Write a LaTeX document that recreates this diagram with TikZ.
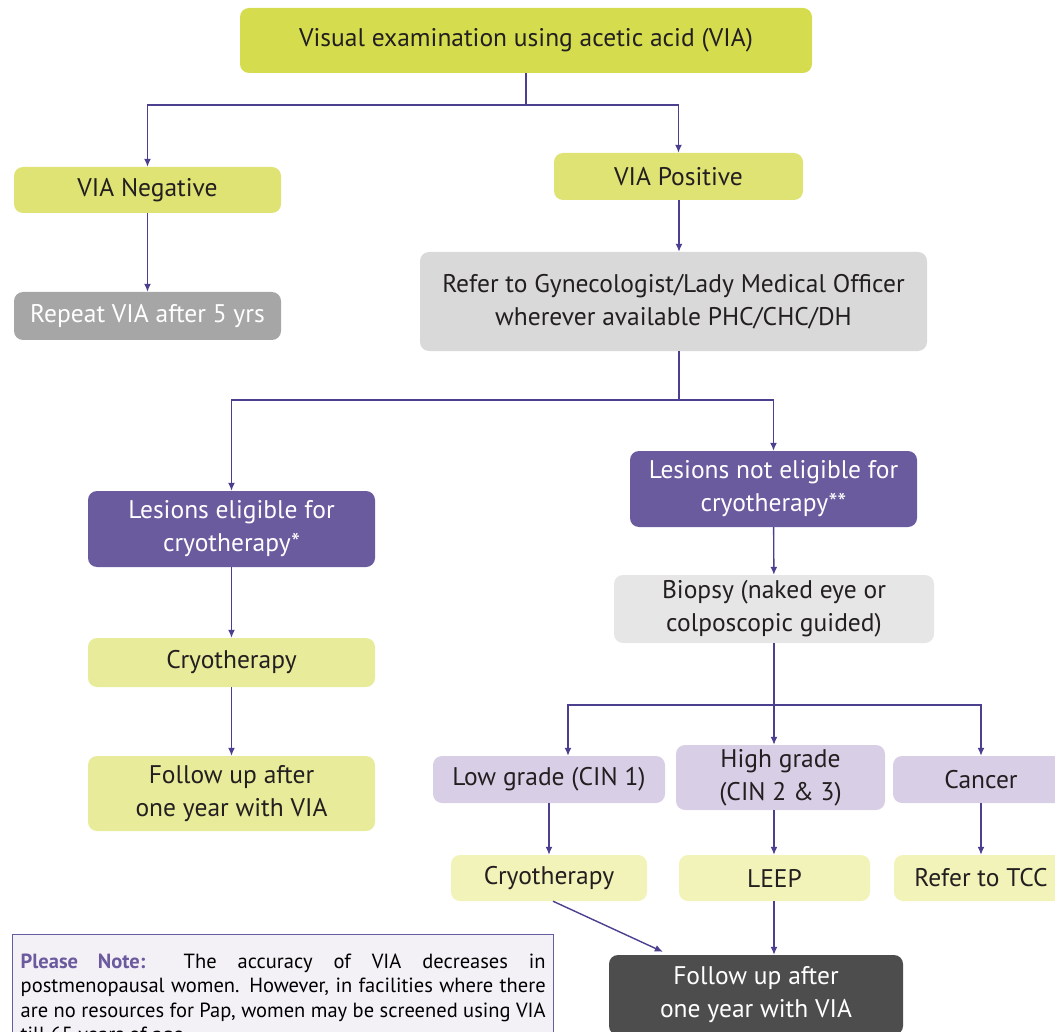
\documentclass[tikz,border=0pt]{standalone}
\usepackage{fontspec}
\setmainfont{PT Sans}
\usetikzlibrary{arrows.meta}

\definecolor{viagreen}{HTML}{D5DD4F}
\definecolor{viapale}{HTML}{DEE373}
\definecolor{cryogreen}{HTML}{E8EC9A}
\definecolor{leepyel}{HTML}{F2F3B9}
\definecolor{lesionpur}{HTML}{6A5A9E}
\definecolor{gradelav}{HTML}{D8CFE6}
\definecolor{arrowblue}{HTML}{4B3F8F}
\definecolor{refergray}{HTML}{D9D9D9}
\definecolor{biopsygray}{HTML}{E6E6E6}
\definecolor{repeatgray}{HTML}{A6A6A6}
\definecolor{finalgray}{HTML}{4D4D4D}
\definecolor{notefill}{HTML}{F3F0F6}
\definecolor{inkblack}{HTML}{231F20}

\begin{document}
\begin{tikzpicture}[x=1pt, y=-1pt, >={Latex[length=8pt,width=7pt]},
  font=\fontsize{25.5}{33}\selectfont,
  box/.style={rounded corners=9pt, align=center, inner sep=0pt, text=inkblack},
  topbox/.style={box, fill=viagreen},
  resbox/.style={box, fill=viapale},
  stepbox/.style={box, fill=cryogreen},
  treatbox/.style={box, fill=leepyel},
  lesbox/.style={box, fill=lesionpur, text=white},
  gradebox/.style={box, fill=gradelav},
  link/.style={->, draw=arrowblue, line width=1.4pt}]
  \useasboundingbox (0,0) rectangle (1055,1032);

  \node[topbox, minimum width=572pt, minimum height=65pt] (via) at (526,40.5) {Visual examination using acetic acid (VIA)};
  \node[resbox, minimum width=267pt, minimum height=46pt] (neg) at (147.5,190) {VIA Negative};
  \node[resbox, minimum width=249pt, minimum height=47pt] (pos) at (678.5,176.5) {VIA Positive};
  \node[box, fill=repeatgray, text=white, minimum width=267pt, minimum height=48pt] (rep) at (147.5,316) {Repeat VIA after 5 yrs};
  \node[box, fill=refergray, minimum width=507pt, minimum height=99pt] (refer) at (673.5,301.5) {Refer to Gynecologist/Lady Medical Officer\\wherever available PHC/CHC/DH};

  \node[lesbox, minimum width=287pt, minimum height=76pt] (elig) at (231.5,529) {Lesions eligible for\\cryotherapy*};
  \node[lesbox, minimum width=287pt, minimum height=76pt] (noelig) at (773.5,489) {Lesions not eligible for\\cryotherapy**};
  \node[stepbox, minimum width=287pt, minimum height=49pt] (cryol) at (231.5,662.5) {Cryotherapy};
  \node[stepbox, minimum width=287pt, minimum height=75pt] (follow) at (231.5,793.5) {Follow up after\\one year with VIA};
  \node[box, fill=biopsygray, minimum width=320pt, minimum height=68pt] (biopsy) at (774,609) {Biopsy (naked eye or\\colposcopic guided)};

  \node[gradebox, minimum width=232pt, minimum height=47pt] (low) at (549,779.5) {Low grade (CIN 1)};
  \node[gradebox, minimum width=209pt, minimum height=65pt] (high) at (780.5,777.5) {High grade\\(CIN 2 \& 3)};
  \node[gradebox, minimum width=176pt, minimum height=47pt] (cancer) at (981,779.5) {Cancer};
  \node[treatbox, minimum width=196pt, minimum height=46pt] (cryob) at (549,878) {Cryotherapy};
  \node[treatbox, minimum width=191pt, minimum height=46pt] (leep) at (774.5,878) {LEEP};
  \node[treatbox, minimum width=174pt, minimum height=46pt] (tcc) at (981,878) {Refer to TCC};
  \node[box, fill=finalgray, text=white, minimum width=294pt, minimum height=80pt] (final) at (756,995) {Follow up after\\one year with VIA};

  \node[draw=arrowblue!85, line width=1.4pt, fill=notefill, anchor=north west,
        text width=525pt, align=justify, inner xsep=8pt, inner ysep=19pt,
        font=\fontsize{20.5}{24.5}\selectfont] (note) at (12,934)
    {{\color{lesionpur}\bfseries Please Note:} The accuracy of VIA decreases in\linebreak
     postmenopausal women. However, in facilities where there\linebreak
     are no resources for Pap, women may be screened using VIA\linebreak
     till 65 years of age.};

  \coordinate (split1) at (526,105);
  \coordinate (split2) at (679,400);
  \coordinate (split3) at (774,705);

  \draw[link, -] (via) -- (split1);
  \draw[link] (split1) -| (neg);
  \draw[link] (split1) -| (pos);
  \draw[link] (neg) -- (rep);
  \draw[link] (pos.south -| split2) -- (refer.north -| split2);
  \draw[link, -] (refer.south -| split2) -- (split2);
  \draw[link] (split2) -| (elig);
  \draw[link] (split2) -| (noelig);
  \draw[link] (elig) -- (cryol);
  \draw[link] (cryol) -- (follow);
  \draw[link] (noelig) -- (biopsy);
  \draw[link, -] (biopsy.south -| split3) -- (split3);
  \draw[link] (split3) -| ([xshift=19pt]low.north);
  \draw[link] (split3) -- (high.north -| split3);
  \draw[link] (split3) -| (cancer);
  \draw[link] (low) -- (cryob);
  \draw[link] (high.south -| split3) -- (leep.north -| split3);
  \draw[link] (cancer) -- (tcc);
  \draw[link] ([xshift=4pt]cryob.south) -- ([xshift=54pt,yshift=3pt]final.north west);
  \draw[link] (leep.south -| split3) -- (final.north -| split3);
\end{tikzpicture}
\end{document}
